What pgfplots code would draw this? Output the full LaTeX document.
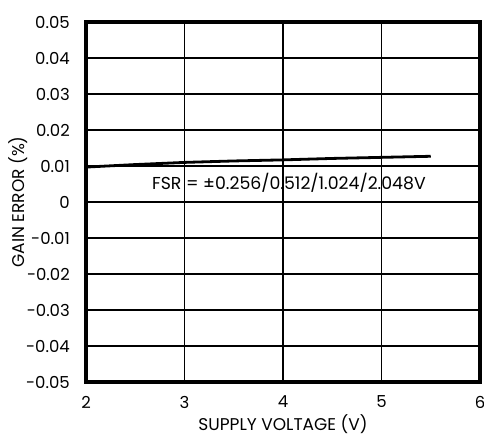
\documentclass[border=0pt]{standalone}
\usepackage{fontspec}
\setmainfont{Poppins}
\usepackage{pgfplots}
\pgfplotsset{compat=1.18}

\begin{document}
\fontsize{17bp}{20bp}\selectfont
\begin{tikzpicture}
\begin{axis}[
    at={(0,0)}, anchor=south west,
    scale only axis,
    width=394bp,
    height=360bp,
    xmin=2, xmax=6,
    ymin=-0.05, ymax=0.05,
    xtick={2,3,4,5,6},
    ytick={-0.05,-0.04,...,0.05},
    yticklabels={-0.05,-0.04,-0.03,-0.02,-0.01,0,0.01,0.02,0.03,0.04,0.05},
    scaled y ticks=false,
    grid=major,
    major grid style={black, line width=1.6bp},
    axis line style={black, line width=3.8bp},
    tick style={draw=none},
    /pgf/number format/assume math mode=true,
    tick label style={font=\fontsize{16.5bp}{20bp}\selectfont, inner sep=0pt},
    y tick label style={anchor=east, xshift=-16bp},
    x tick label style={anchor=center, yshift=-20bp},
    xlabel={SUPPLY VOLTAGE (V)},
    ylabel={GAIN ERROR (\%)},
    label style={font=\fontsize{17bp}{20bp}\selectfont, inner sep=0pt},
    xlabel style={at={(axis description cs:0.5,-0.118)}, anchor=center},
    ylabel style={at={(axis description cs:-0.1726,0.5)}, anchor=center},
]
\addplot[black, line width=2.8bp] coordinates {
    (2.0, 0.0097)
    (2.5, 0.0104)
    (3.0, 0.0110)
    (3.5, 0.0114)
    (4.0, 0.0117)
    (4.5, 0.0121)
    (5.0, 0.0124)
    (5.5, 0.0127)
};
\node[font=\fontsize{17.3bp}{20bp}\selectfont] at (axis cs:4.06,0.0053) {FSR = ±0.256/0.512/1.024/2.048V};
\end{axis}
\pgfresetboundingbox
\path (-86bp,-55bp) rectangle (398bp,382bp);
\end{tikzpicture}
\end{document}
